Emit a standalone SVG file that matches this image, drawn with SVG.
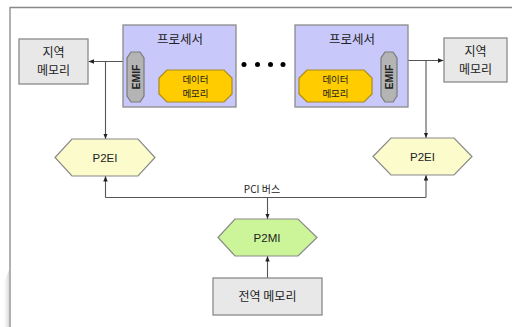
<svg xmlns="http://www.w3.org/2000/svg" width="512" height="327" viewBox="0 0 512 327">
<style>
.kr{font-family:"Noto Sans CJK KR","Liberation Sans",sans-serif;fill:#222}
.lt{font-family:"Liberation Sans","Noto Sans",sans-serif;fill:#222}
.proc{fill:#c8c8fa;stroke:#8a8a8a;stroke-width:1.3}
.mem{fill:#e8e8e8;stroke:#8a8a8a;stroke-width:1.3}
.emif{fill:#b4b4b4;stroke:#7a7a7a;stroke-width:1.2}
.dmem{fill:#ffcc00;stroke:#a88a20;stroke-width:1.2}
.p2ei{fill:#fbfbcc;stroke:#8a8a8a;stroke-width:1.2}
.p2mi{fill:#ccf499;stroke:#8a8a8a;stroke-width:1.2}
.ln{fill:none;stroke:#555;stroke-width:1.1}
</style>
<defs>
<marker id="ah" viewBox="0 0 10 10" refX="10" refY="5" markerWidth="5" markerHeight="5" orient="auto">
<path d="M0,1 L10,5 L0,9 z" fill="#222"/>
</marker>
<linearGradient id="sh" x1="0" y1="0" x2="1" y2="0">
<stop offset="0" stop-color="#ffffff" stop-opacity="0"/>
<stop offset="1" stop-color="#d8d8d8"/>
</linearGradient>
</defs>
<rect width="512" height="327" fill="#ffffff"/>
<polygon points="2,327 3,285 9,270 9,327" fill="url(#sh)"/>
<g id="frame">
<path d="M10,327 V7.5 H512" fill="none" stroke="#888" stroke-width="1.3"/>
</g>
<g id="connectors">
<line class="ln" x1="123" y1="61.5" x2="88.5" y2="61.5" marker-end="url(#ah)"/>
<line class="ln" x1="105.5" y1="61.5" x2="105.5" y2="139" marker-end="url(#ah)"/>
<line class="ln" x1="408" y1="60.5" x2="443.5" y2="60.5" marker-end="url(#ah)"/>
<line class="ln" x1="426" y1="60.5" x2="426" y2="138" marker-end="url(#ah)"/>
<polyline class="ln" points="105.5,197.5 426,197.5"/>
<line class="ln" x1="105.5" y1="197.5" x2="105.5" y2="176" marker-end="url(#ah)"/>
<line class="ln" x1="426" y1="197.5" x2="426" y2="175" marker-end="url(#ah)"/>
<line class="ln" x1="267.5" y1="197.5" x2="267.5" y2="219" marker-end="url(#ah)"/>
<line class="ln" x1="267.5" y1="278" x2="267.5" y2="256" marker-end="url(#ah)"/>
<text class="kr" x="262" y="193" font-size="10" text-anchor="middle">PCI 버스</text>
</g>
<g id="local-mem-left">
<rect class="mem" x="19" y="39" width="69" height="45"/>
<text class="kr" x="53.5" y="57" font-size="12" text-anchor="middle">지역</text>
<text class="kr" x="53.5" y="75" font-size="12" text-anchor="middle">메모리</text>
</g>
<g id="local-mem-right">
<rect class="mem" x="444" y="38" width="63" height="44"/>
<text class="kr" x="475.5" y="56" font-size="12" text-anchor="middle">지역</text>
<text class="kr" x="475.5" y="74" font-size="12" text-anchor="middle">메모리</text>
</g>
<g id="proc-left">
<rect class="proc" x="123" y="25" width="113" height="82"/>
<text class="kr" x="180" y="44" font-size="12.5" text-anchor="middle">프로세서</text>
<polygon class="emif" points="131,52 140,52 144,58 144,96 140,102 131,102 127,96 127,58"/>
<text class="lt" font-size="10.5" font-weight="bold" text-anchor="middle" transform="translate(139.5,77) rotate(-90)">EMIF</text>
<polygon class="dmem" points="167,70 224,70 232,78 232,94 224,102 167,102 159,94 159,78"/>
<text class="kr" x="195.5" y="83" font-size="9.5" text-anchor="middle" fill="#444">데이터</text>
<text class="kr" x="195.5" y="97" font-size="9.5" text-anchor="middle" fill="#444">메모리</text>
</g>
<g id="dots">
<circle cx="244" cy="64.5" r="2.5" fill="#000"/>
<circle cx="257.5" cy="64.5" r="2.5" fill="#000"/>
<circle cx="270.5" cy="64.5" r="2.5" fill="#000"/>
<circle cx="283" cy="64.5" r="2.5" fill="#000"/>
</g>
<g id="proc-right">
<rect class="proc" x="295" y="25" width="113" height="82"/>
<text class="kr" x="352" y="44" font-size="12.5" text-anchor="middle">프로세서</text>
<polygon class="emif" points="385,52 393,52 397,58 397,96 393,102 385,102 381,96 381,58"/>
<text class="lt" font-size="10.5" font-weight="bold" text-anchor="middle" transform="translate(392.5,77) rotate(-90)">EMIF</text>
<polygon class="dmem" points="307,70 364,70 372,78 372,94 364,102 307,102 299,94 299,78"/>
<text class="kr" x="335.5" y="83" font-size="9.5" text-anchor="middle" fill="#444">데이터</text>
<text class="kr" x="335.5" y="97" font-size="9.5" text-anchor="middle" fill="#444">메모리</text>
</g>
<g id="p2ei-left">
<polygon class="p2ei" points="55,157.5 72,139 138,139 155,157.5 138,176 72,176"/>
<text class="lt" x="105" y="161.5" font-size="11.5" text-anchor="middle">P2EI</text>
</g>
<g id="p2ei-right">
<polygon class="p2ei" points="373,156.5 391,138 454,138 472,156.5 454,175 391,175"/>
<text class="lt" x="422.5" y="160.5" font-size="11.5" text-anchor="middle">P2EI</text>
</g>
<g id="p2mi">
<polygon class="p2mi" points="218,237.5 235,219 298,219 317,237.5 298,256 235,256"/>
<text class="lt" x="267" y="241.5" font-size="11.5" text-anchor="middle">P2MI</text>
</g>
<g id="global-mem">
<rect class="mem" x="213" y="278" width="109" height="37"/>
<text class="kr" x="267.5" y="301" font-size="12" text-anchor="middle">전역 메모리</text>
</g>
</svg>
